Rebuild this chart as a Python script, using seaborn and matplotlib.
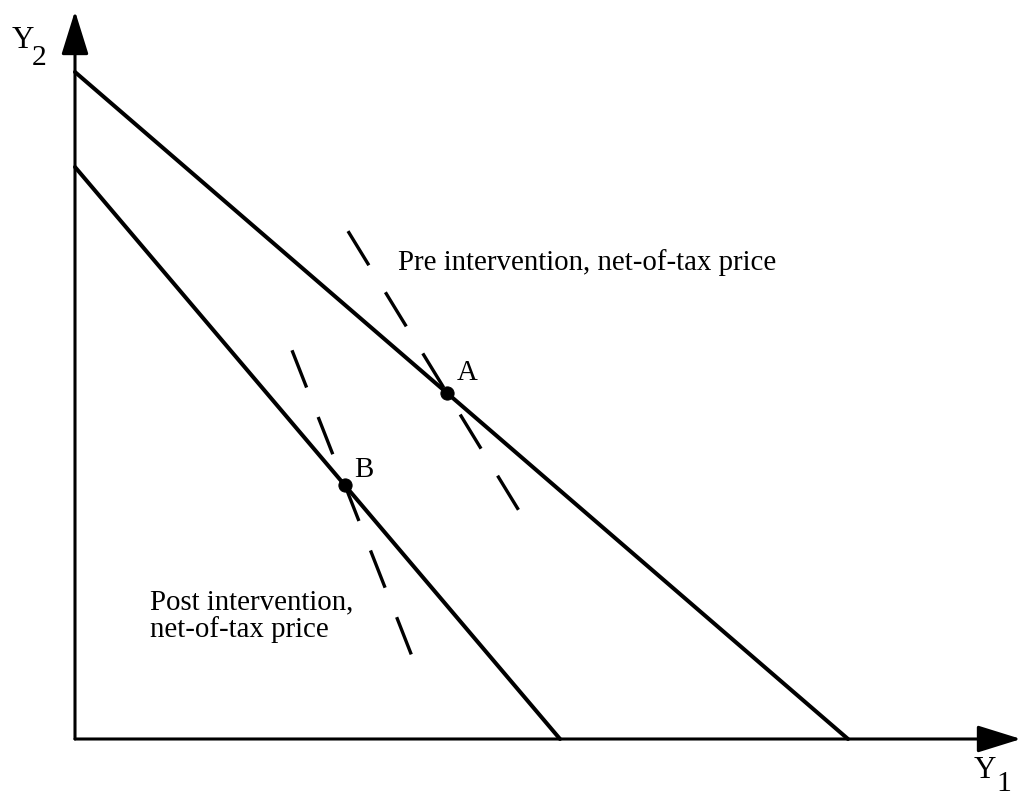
import numpy as np
import pandas as pd
import seaborn as sns
import matplotlib.pyplot as plt

# Dados do diagrama (unidades arbitrárias, origem no cruzamento dos eixos)
# linhas orçamentais: interceptos em Y2 e em Y1
pre_y2, pre_y1 = 66.7, 77.3
post_y2, post_y1 = 57.2, 48.5

# pontos de escolha A e B (coordenada Y1)
ponto_a_x = 37.2
ponto_b_x = 27.0

# linhas tracejadas (preço líquido): inclinação e intervalo em Y1
incl_pre, pre_tracejado = -1.635, (27.3, 45.4)
incl_post, post_tracejado = -2.55, (21.7, 34.2)

# comprimento dos eixos
eixo_x_max, eixo_y_max = 94.6, 72.8

sns.set_theme(style="white")
plt.rcParams['font.family'] = ['Liberation Serif', 'DejaVu Serif']
plt.rcParams['text.color'] = 'black'

fig = plt.figure(figsize=(10.31, 7.95), dpi=100)
ax = fig.add_axes([0, 0, 1, 1])
ax.set_xlim(-7.5, 95.6)
ax.set_ylim(-5.6, 73.9)
ax.axis('off')

# Linhas orçamentais
linhas = pd.DataFrame({
    'Y1': [0, pre_y1, 0, post_y1],
    'Y2': [pre_y2, 0, post_y2, 0],
    'linha': ['pre', 'pre', 'post', 'post'],
})
sns.lineplot(data=linhas, x='Y1', y='Y2', units='linha', estimator=None,
             color='black', lw=2.9, ax=ax, sort=False)

# Pontos A e B sobre as linhas
ponto_a_y = pre_y2 * (1 - ponto_a_x / pre_y1)
ponto_b_y = post_y2 * (1 - ponto_b_x / post_y1)
pontos = pd.DataFrame({'Y1': [ponto_a_x, ponto_b_x], 'Y2': [ponto_a_y, ponto_b_y]})
sns.scatterplot(data=pontos, x='Y1', y='Y2', color='black', s=90,
                edgecolor='black', zorder=5, ax=ax)

# Tracejados através de A e B
for (x0, x1), incl, px, py in [(pre_tracejado, incl_pre, ponto_a_x, ponto_a_y),
                               (post_tracejado, incl_post, ponto_b_x, ponto_b_y)]:
    xs = np.array([x0, x1])
    ys = py + incl * (xs - px)
    sns.lineplot(x=xs, y=ys, color='black', lw=2.4, ax=ax,
                 dashes=False, linestyle=(0, (12, 9.5)))

# Eixos com setas
seta = dict(arrowstyle='-|>,head_length=1.35,head_width=0.42', lw=2.2,
            color='black', mutation_scale=20, shrinkA=0, shrinkB=0)
ax.annotate('', xy=(eixo_x_max, 0), xytext=(0, 0), arrowprops=seta)
ax.annotate('', xy=(0, eixo_y_max), xytext=(0, 0), arrowprops=seta)

# Textos
fs = 20.8
ax.text(32.3, 46.9, 'Pre intervention, net-of-tax price', fontsize=fs, va='baseline')
ax.text(7.5, 13.0, 'Post intervention,', fontsize=fs, va='baseline')
ax.text(7.5, 10.2, 'net-of-tax price', fontsize=fs, va='baseline')
ax.text(38.2, 35.9, 'A', fontsize=fs, va='baseline')
ax.text(27.9, 26.2, 'B', fontsize=fs, va='baseline')
ax.text(-6.3, 69.1, 'Y', fontsize=fs + 1.5, va='baseline')
ax.text(-4.3, 67.4, '2', fontsize=fs + 0.5, va='baseline')
ax.text(89.9, -3.85, 'Y', fontsize=fs + 1.5, va='baseline')
ax.text(92.1, -5.2, '1', fontsize=fs + 0.5, va='baseline')

plt.savefig('out.png', dpi=100)
